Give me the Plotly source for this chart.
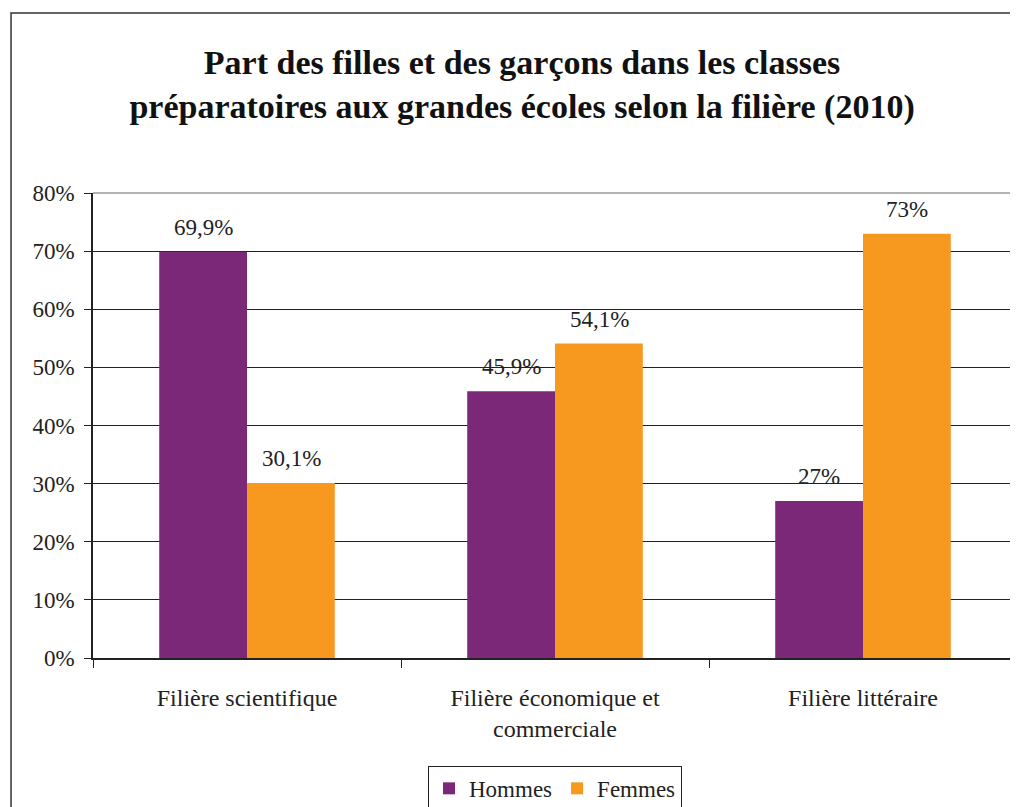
import plotly.graph_objects as go

categories = ["Filière scientifique", "Filière économique et<br>commerciale", "Filière littéraire"]
hommes = [69.9, 45.9, 27]
femmes = [30.1, 54.1, 73]
hommes_labels = ["69,9%", "45,9%", "27%"]
femmes_labels = ["30,1%", "54,1%", "73%"]
y_ticks = [0, 10, 20, 30, 40, 50, 60, 70, 80]
y_ticktext = [f"{v}%" for v in y_ticks]

PURPLE = "#7B2878"
ORANGE = "#F7991F"
FONT = "'Liberation Serif', 'DejaVu Serif', serif"

fig = go.Figure()
fig.add_trace(go.Bar(name="Hommes", x=categories, y=hommes, marker=dict(color=PURPLE, line=dict(width=0))))
fig.add_trace(go.Bar(name="Femmes", x=categories, y=femmes, marker=dict(color=ORANGE, line=dict(width=0))))

for vals, labels, shift in [(hommes, hommes_labels, -44), (femmes, femmes_labels, 44)]:
    for c, v, t in zip(categories, vals, labels):
        fig.add_annotation(x=c, y=v, text=t, showarrow=False, xshift=shift, yshift=10,
                           yanchor="bottom", font=dict(family=FONT, size=23, color="#222"))

# outer chart frame
fig.add_shape(type="rect", xref="paper", yref="paper", x0=-0.0887, x1=1.02, y0=-0.5, y1=1.387,
              line=dict(color="#333", width=1.5), fillcolor="rgba(0,0,0,0)", layer="below")
# light plot-area border (top and right)
fig.add_shape(type="path", xref="paper", yref="paper", path="M0,1 L1,1 L1,0",
              line=dict(color="#999", width=1.5), layer="above")

fig.update_layout(
    width=1010, height=799,
    margin=dict(l=85, r=1, t=185, b=149, autoexpand=False),
    paper_bgcolor="white", plot_bgcolor="white",
    barmode="group", bargap=0.43, bargroupgap=0,
    title=dict(text="<b>Part des filles et des garçons dans les classes<br>préparatoires aux grandes écoles selon la filière (2010)</b>",
               x=0.509, xanchor="center", y=0.918, yanchor="top",
               font=dict(family=FONT, size=34, color="#111")),
    font=dict(family=FONT, color="#222"),
    showlegend=True,
    legend=dict(orientation="h", x=0.5, xanchor="center", y=-0.232, yanchor="top",
                bordercolor="#222", borderwidth=1, font=dict(family=FONT, size=23, color="#222"),
                itemwidth=30, traceorder="normal"),
    xaxis=dict(showline=True, linecolor="#222", linewidth=1.5, ticks="outside", tickson="boundaries",
               ticklen=8, tickcolor="#222", tickfont=dict(family=FONT, size=24, color="#222"),
               ticklabelstandoff=17, showgrid=False, automargin=False),
    yaxis=dict(range=[0, 80], tickvals=y_ticks, ticktext=y_ticktext, showline=True, linecolor="#222",
               linewidth=1.5, ticks="outside", ticklen=7, tickcolor="#222", showgrid=True,
               gridcolor="#222", gridwidth=1, zeroline=False, ticklabelstandoff=5, automargin=False,
               tickfont=dict(family=FONT, size=23, color="#222")),
)
fig.write_html("out.html")
